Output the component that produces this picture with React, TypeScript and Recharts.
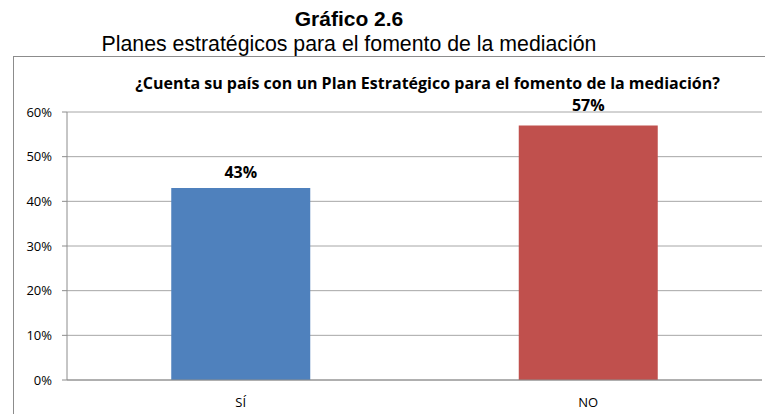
import React from 'react';
import { BarChart, Bar, XAxis, YAxis, CartesianGrid, LabelList, Cell } from 'recharts';

const categories = ['SÍ', 'NO'];
const values = [0.43, 0.57];
const colors = ['#4F81BD', '#C0504D'];
const yTicks = [0, 0.1, 0.2, 0.3, 0.4, 0.5, 0.6];
const labelOffsets = [10, 14];

const data = categories.map((c, i) => ({ name: c, value: values[i] }));

const pct = (v: number) => `${Math.round(v * 100)}%`;

const BarLabel = (props: any) => {
  const { x, y, width, value, index } = props;
  const off = labelOffsets[index] ?? 10;
  return (
    <text
      x={Number(x) + Number(width) / 2}
      y={Number(y) - off}
      textAnchor="middle"
      fill="#000"
      style={{ fontWeight: 'bold', fontSize: 16, fontFamily: '"Open Sans", sans-serif' }}
    >
      {pct(Number(value))}
    </text>
  );
};

export default function App() {
  return (
    <div style={{ position: 'fixed', left: 0, top: 0, width: 765, height: 414, background: '#fff', overflow: 'hidden' }}>
      <div style={{ position: 'absolute', left: 0, width: 698, top: 7, textAlign: 'center', fontFamily: '"Liberation Sans", Arial, sans-serif', fontWeight: 'bold', fontSize: 21, lineHeight: '24px', color: '#000' }}>
        Gráfico 2.6
      </div>
      <div style={{ position: 'absolute', left: 0, width: 698, top: 31, textAlign: 'center', fontFamily: '"Liberation Sans", Arial, sans-serif', fontSize: 21.3, lineHeight: '26px', color: '#000' }}>
        Planes estratégicos para el fomento de la mediación
      </div>
      <div style={{ position: 'absolute', left: 13, top: 56, width: 800, height: 400, borderTop: '1.5px solid #8c8c8c', borderLeft: '1.5px solid #8c8c8c' }} />
      <div style={{ position: 'absolute', left: 0, width: 855, top: 75, textAlign: 'center', fontFamily: '"Open Sans", sans-serif', fontWeight: 'bold', fontSize: 16, lineHeight: '16px', color: '#000' }}>
        ¿Cuenta su país con un Plan Estratégico para el fomento de la mediación?
      </div>
      <div style={{ position: 'absolute', left: 0, top: 0 }}>
        <BarChart width={765} height={414} data={data} margin={{ top: 112, right: 3, bottom: 4, left: 0 }} barCategoryGap="30%">
          <CartesianGrid vertical={false} stroke="#a6a6a6" />
          <XAxis
            dataKey="name"
            height={30}
            tickLine={false}
            axisLine={{ stroke: '#8c8c8c' }}
            tick={{ fill: '#000', fontSize: 13, fontFamily: '"Open Sans", sans-serif' }}
            tickMargin={12}
          />
          <YAxis
            width={67}
            domain={[0, 0.6]}
            ticks={yTicks}
            tickFormatter={pct}
            tickSize={5}
            tickMargin={10}
            tickLine={{ stroke: '#8c8c8c' }}
            axisLine={{ stroke: '#8c8c8c' }}
            tick={{ fill: '#000', fontSize: 13, fontFamily: '"Open Sans", sans-serif' }}
            interval={0}
          />
          <Bar dataKey="value" isAnimationActive={false}>
            {data.map((d, i) => (
              <Cell key={d.name} fill={colors[i]} />
            ))}
            <LabelList dataKey="value" content={BarLabel} />
          </Bar>
        </BarChart>
      </div>
    </div>
  );
}
